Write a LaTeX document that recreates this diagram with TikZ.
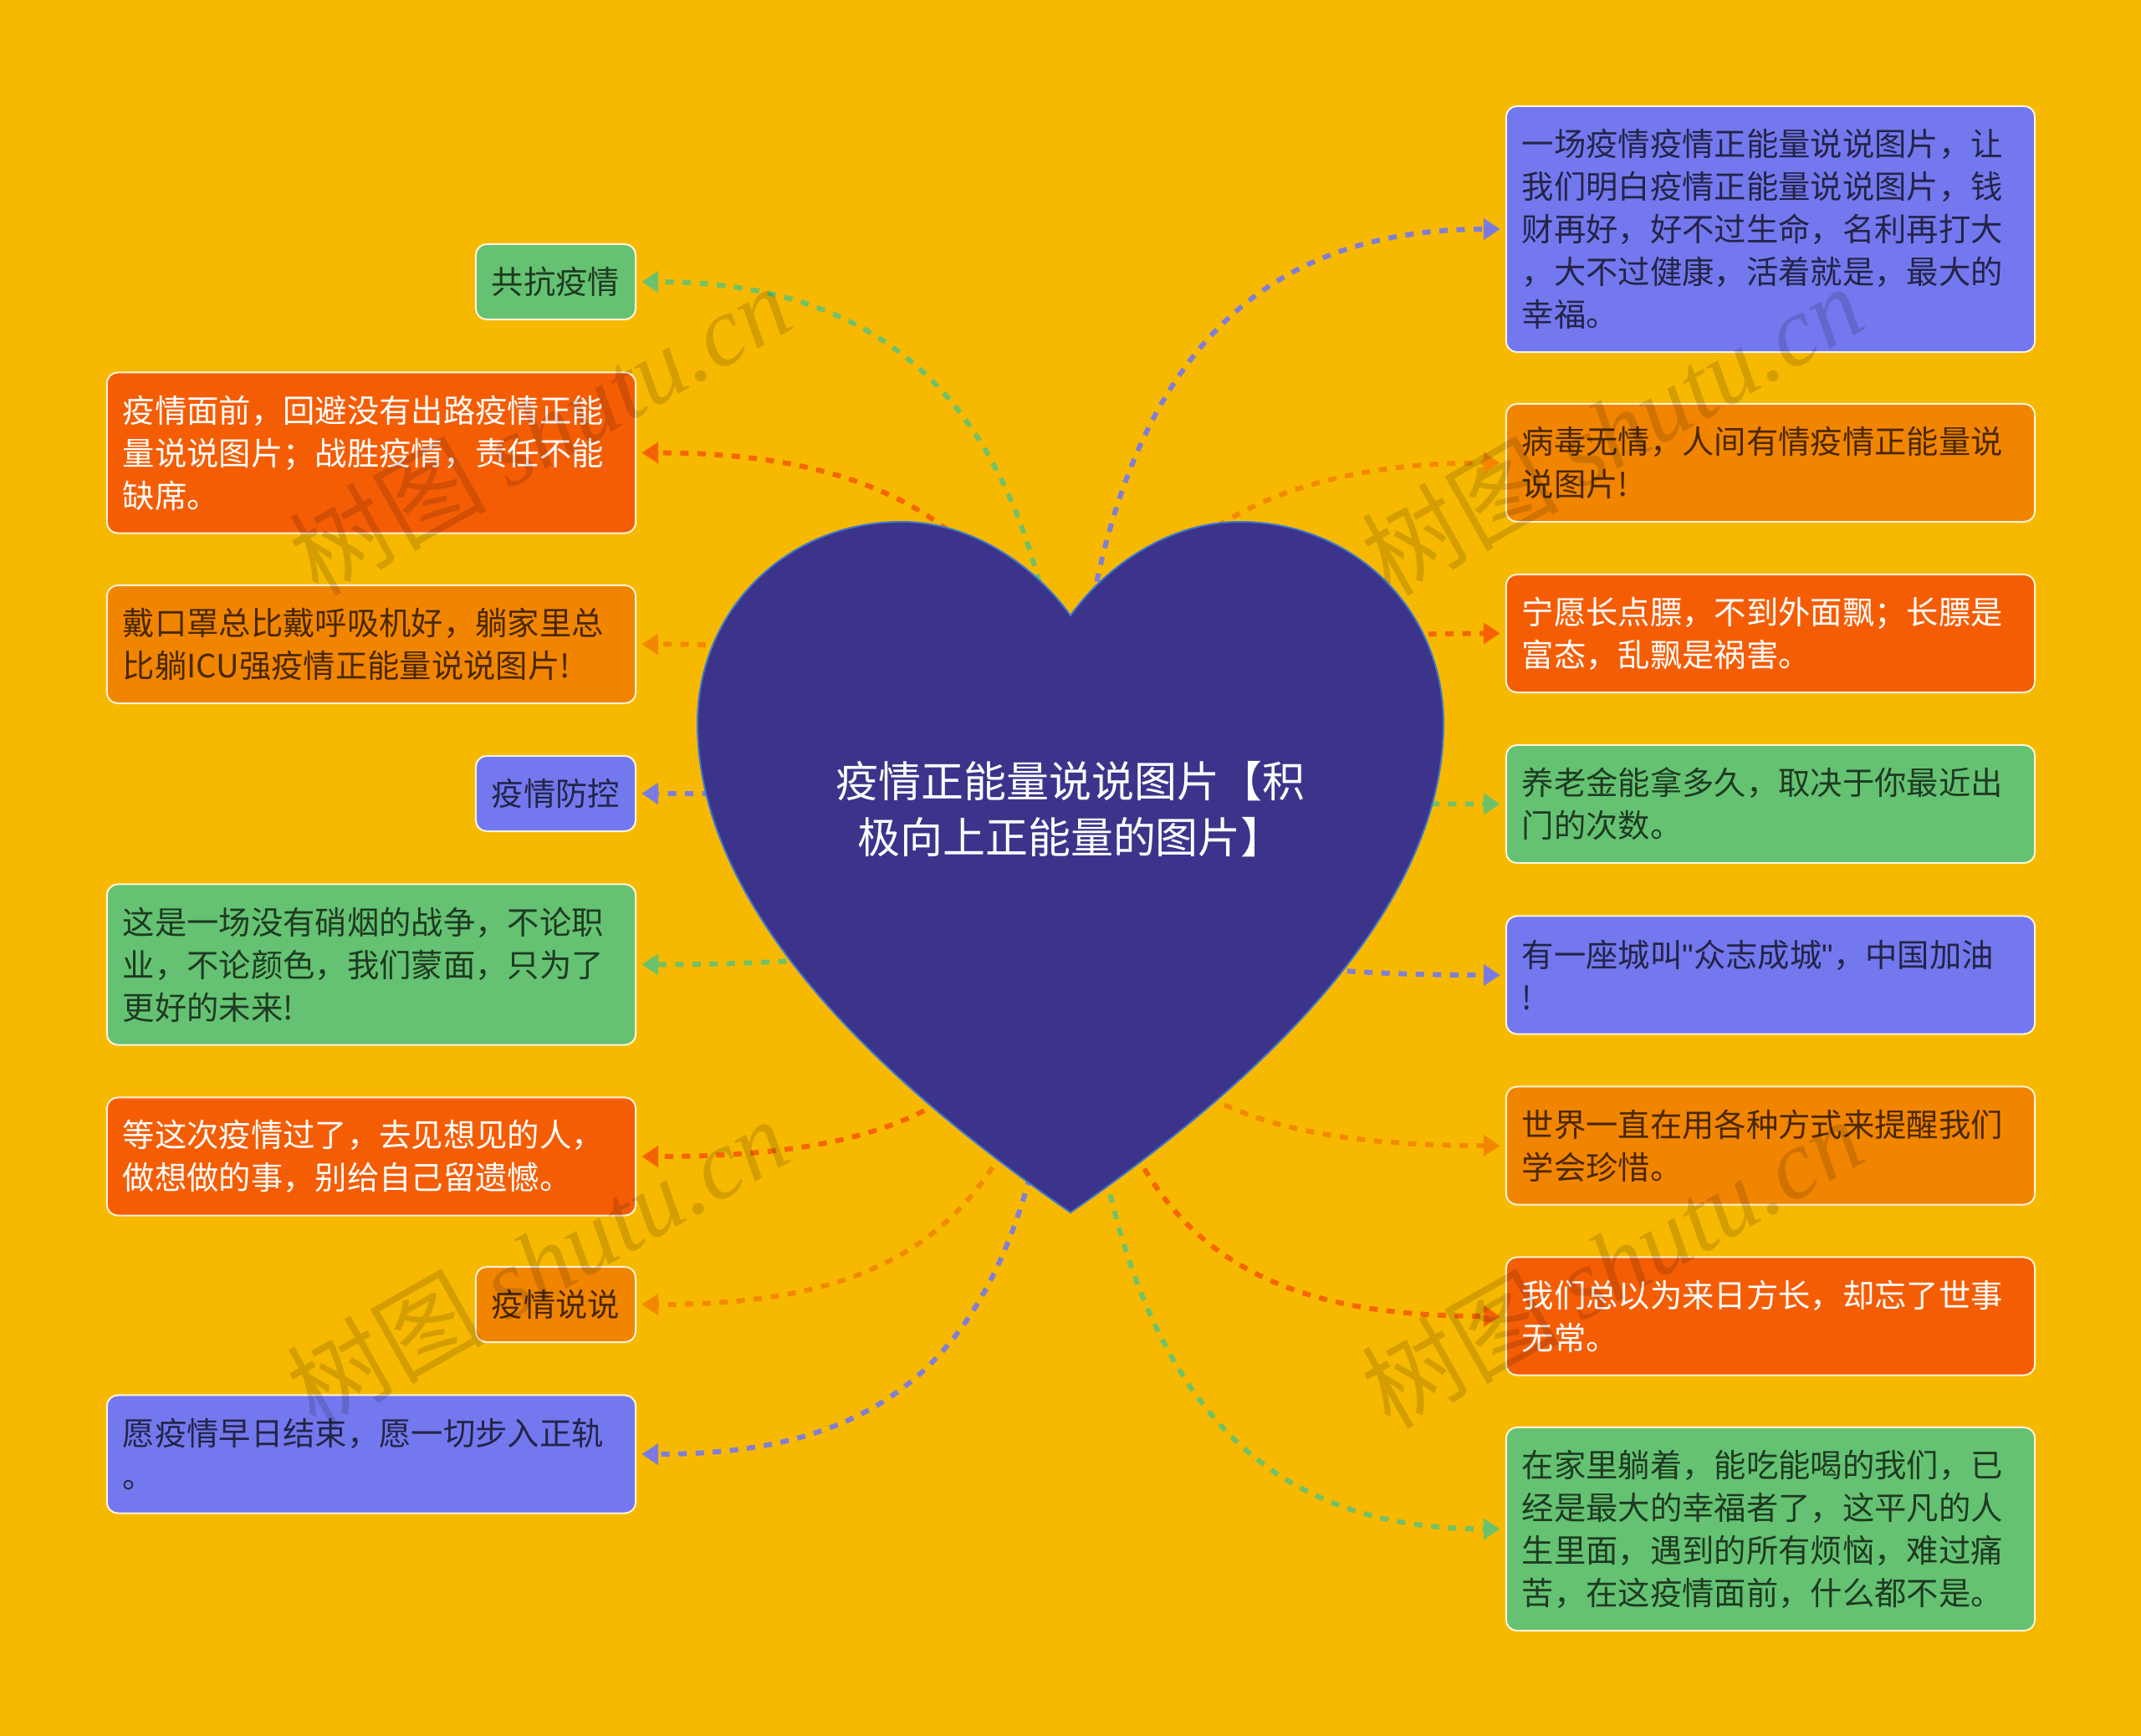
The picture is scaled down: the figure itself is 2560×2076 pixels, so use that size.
\documentclass[tikz,border=0pt]{standalone}
\usepackage{fontspec}
\setmainfont{Noto Sans CJK SC}
\newfontfamily\wmlatin{Liberation Serif}
\newfontfamily\plainquote{Liberation Sans}
\usetikzlibrary{arrows.meta}
\definecolor{cbg}{HTML}{F7B900}
\definecolor{cheart}{HTML}{3C348A}
\definecolor{cedge}{HTML}{3F78CC}
\definecolor{cgreen}{HTML}{65C272}
\definecolor{cred}{HTML}{F55D05}
\definecolor{corange}{HTML}{F28500}
\definecolor{cpurple}{HTML}{7478EE}
\tikzset{
  leaf/.style={draw=white!85!cbg,line width=0.02cm,rounded corners=0.13cm,align=left,inner xsep=0.19cm,inner ysep=0pt,font=\fontsize{10.9}{14.5}\selectfont},
  wide/.style={text width=5.94cm},
  narrow/.style={text width=1.53cm},
  lines1/.style={minimum height=0.90cm},
  lines2/.style={minimum height=1.41cm},
  lines3/.style={minimum height=1.92cm},
  lines4/.style={minimum height=2.43cm},
  lines5/.style={minimum height=2.94cm},
  boxg/.style={leaf,fill=cgreen,text=cgreen!30!black},
  boxr/.style={leaf,fill=cred,text=white},
  boxo/.style={leaf,fill=corange,text=corange!30!black},
  boxp/.style={leaf,fill=cpurple,text=cpurple!30!black},
  link/.style={dash pattern=on 0.10cm off 0.105cm,line width=0.06cm,opacity=0.9,shorten >=0.06cm,-{Triangle[length=0.2cm,width=0.25cm,sep=0pt]}},
  wmark/.style={rotate=29.5,text=black,text opacity=0.14,font=\fontsize{33.5}{33.5}\selectfont}
}
\begin{document}
\begin{tikzpicture}[x=0.01cm,y=-0.01cm]
  \fill[cbg] (0,0) rectangle (2560,2076);
  \useasboundingbox (0,0) rectangle (2560,2076);
  \coordinate (hub) at (1280,960);
  % left side
  \node[boxg,narrow,lines1] (l1) at (664.5,337) {共抗疫情};
  \node[boxr,wide,lines3] (l2) at (444,541.5) {疫情面前，回避没有出路疫情正能\\量说说图片；战胜疫情，责任不能\\缺席。};
  \node[boxo,wide,lines2] (l3) at (444,770.5) {戴口罩总比戴呼吸机好，躺家里总\\比躺ICU强疫情正能量说说图片!};
  \node[boxp,narrow,lines1] (l4) at (664.5,949) {疫情防控};
  \node[boxg,wide,lines3] (l5) at (444,1153.5) {这是一场没有硝烟的战争，不论职\\业，不论颜色，我们蒙面，只为了\\更好的未来!};
  \node[boxr,wide,lines2] (l6) at (444,1383) {等这次疫情过了，去见想见的人，\\做想做的事，别给自己留遗憾。};
  \node[boxo,narrow,lines1] (l7) at (664.5,1560) {疫情说说};
  \node[boxp,wide,lines2] (l8) at (444,1739) {愿疫情早日结束，愿一切步入正轨\\。};
  % right side
  \node[boxp,wide,lines5] (r1) at (2117,274) {一场疫情疫情正能量说说图片，让\\我们明白疫情正能量说说图片，钱\\财再好，好不过生命，名利再打大\\，大不过健康，活着就是，最大的\\幸福。};
  \node[boxo,wide,lines2] (r2) at (2117,553.5) {病毒无情，人间有情疫情正能量说\\说图片!};
  \node[boxr,wide,lines2] (r3) at (2117,757.5) {宁愿长点膘，不到外面飘；长膘是\\富态，乱飘是祸害。};
  \node[boxg,wide,lines2] (r4) at (2117,961.5) {养老金能拿多久，取决于你最近出\\门的次数。};
  \node[boxp,wide,lines2] (r5) at (2117,1166) {有一座城叫{\plainquote"}众志成城{\plainquote"}，中国加油\\!};
  \node[boxo,wide,lines2] (r6) at (2117,1370) {世界一直在用各种方式来提醒我们\\学会珍惜。};
  \node[boxr,wide,lines2] (r7) at (2117,1574) {我们总以为来日方长，却忘了世事\\无常。};
  \node[boxg,wide,lines4] (r8) at (2117,1828.5) {在家里躺着，能吃能喝的我们，已\\经是最大的幸福者了，这平凡的人\\生里面，遇到的所有烦恼，难过痛\\苦，在这疫情面前，什么都不是。};
  % connectors, the heart covers their start
  \draw[link,cgreen] (hub) .. controls (1260,543) and (1110,337) .. (l1.east);
  \draw[link,cred] (hub) .. controls (1260,679) and (1110,541) .. (l2.east);
  \draw[link,corange] (hub) .. controls (1260,833) and (1110,770) .. (l3.east);
  \draw[link,cpurple] (hub) .. controls (1260,953) and (1110,949) .. (l4.east);
  \draw[link,cgreen] (hub) .. controls (1275,1114) and (1110,1153) .. (l5.east);
  \draw[link,cred] (hub) .. controls (1275,1298) and (1110,1383) .. (l6.east);
  \draw[link,corange] (hub) .. controls (1275,1440) and (1110,1560) .. (l7.east);
  \draw[link,cpurple] (hub) .. controls (1275,1570) and (1120,1739) .. (l8.east);
  \draw[link,cpurple] (hub) .. controls (1300,500) and (1450,274) .. (r1.west);
  \draw[link,corange] (hub) .. controls (1300,705) and (1450,553) .. (r2.west);
  \draw[link,cred] (hub) .. controls (1300,824) and (1450,757) .. (r3.west);
  \draw[link,cgreen] (hub) .. controls (1300,961) and (1450,961) .. (r4.west);
  \draw[link,cpurple] (hub) .. controls (1285,1125) and (1450,1166) .. (r5.west);
  \draw[link,corange] (hub) .. controls (1285,1288) and (1450,1370) .. (r6.west);
  \draw[link,cred] (hub) .. controls (1285,1451) and (1450,1574) .. (r7.west);
  \draw[link,cgreen] (hub) .. controls (1285,1600) and (1450,1828) .. (r8.west);
  % heart
  \draw[fill=cheart,draw=cedge,line width=0.02cm] (1280,736)
    .. controls (1240,680) and (1165,624) .. (1078,624)
    .. controls (940,624) and (834,730) .. (834,865)
    .. controls (834,1110) and (1100,1325) .. (1280,1450)
    .. controls (1460,1325) and (1726,1110) .. (1726,865)
    .. controls (1726,730) and (1620,624) .. (1482,624)
    .. controls (1395,624) and (1320,680) .. (1280,736) -- cycle;
  \node[align=center,text=white,font=\fontsize{14.5}{19}\selectfont] (root) at (1280,968) {疫情正能量说说图片【积\\极向上正能量的图片】};
  % watermarks
  \node[wmark] (wm1) at (645,514) {树图 {\wmlatin\itshape shutu.cn}};
  \node[wmark] (wm2) at (1927,514) {树图 {\wmlatin\itshape shutu.cn}};
  \node[wmark] (wm3) at (642,1510) {树图 {\wmlatin\itshape shutu.cn}};
  \node[wmark] (wm4) at (1927,1510) {树图 {\wmlatin\itshape shutu.cn}};
\end{tikzpicture}
\end{document}
